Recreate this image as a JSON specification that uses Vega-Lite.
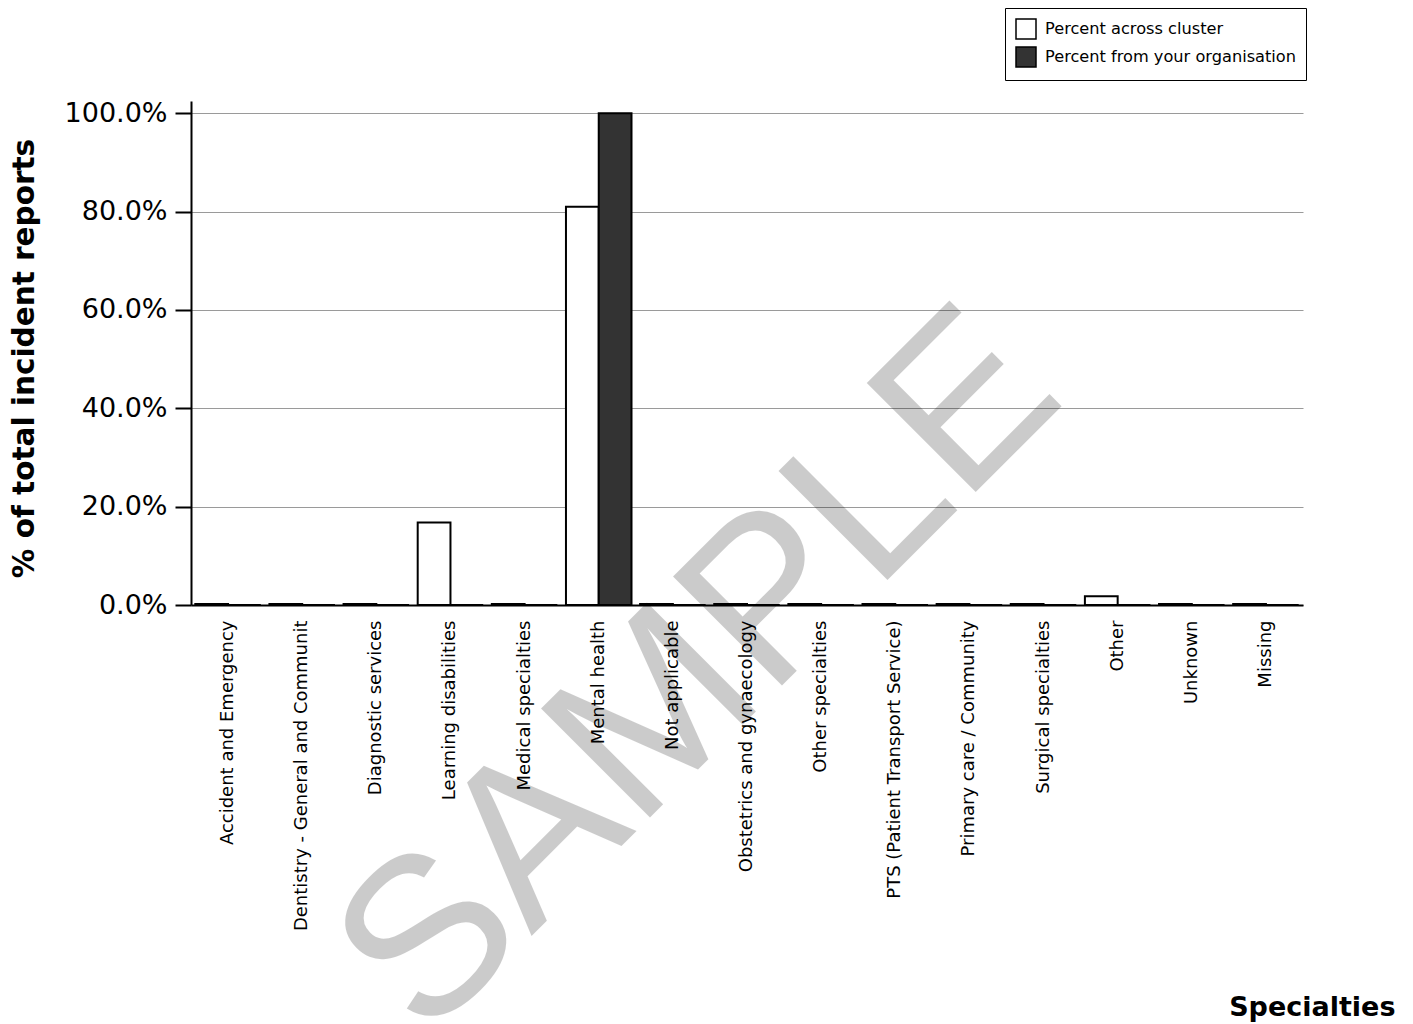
{
  "$schema": "https://vega.github.io/schema/vega-lite/v6.json",
  "autosize": {"type": "none"},
  "width": 1112,
  "height": 504,
  "padding": {"left": 191, "top": 101, "right": 110, "bottom": 419},
  "background": "#ffffff",
  "config": {
    "view": {"stroke": null},
    "font": "DejaVu Sans"
  },
  "layer": [
    {
      "data": {
        "values": [
          {"specialty": "Accident and Emergency", "series": "Percent across cluster", "pct": 0.2},
          {"specialty": "Accident and Emergency", "series": "Percent from your organisation", "pct": 0},
          {"specialty": "Dentistry - General and Communit", "series": "Percent across cluster", "pct": 0.2},
          {"specialty": "Dentistry - General and Communit", "series": "Percent from your organisation", "pct": 0},
          {"specialty": "Diagnostic services", "series": "Percent across cluster", "pct": 0.2},
          {"specialty": "Diagnostic services", "series": "Percent from your organisation", "pct": 0},
          {"specialty": "Learning disabilities", "series": "Percent across cluster", "pct": 16.8},
          {"specialty": "Learning disabilities", "series": "Percent from your organisation", "pct": 0},
          {"specialty": "Medical specialties", "series": "Percent across cluster", "pct": 0.2},
          {"specialty": "Medical specialties", "series": "Percent from your organisation", "pct": 0},
          {"specialty": "Mental health", "series": "Percent across cluster", "pct": 81.0},
          {"specialty": "Mental health", "series": "Percent from your organisation", "pct": 100.0},
          {"specialty": "Not applicable", "series": "Percent across cluster", "pct": 0.2},
          {"specialty": "Not applicable", "series": "Percent from your organisation", "pct": 0},
          {"specialty": "Obstetrics and gynaecology", "series": "Percent across cluster", "pct": 0.2},
          {"specialty": "Obstetrics and gynaecology", "series": "Percent from your organisation", "pct": 0},
          {"specialty": "Other specialties", "series": "Percent across cluster", "pct": 0.2},
          {"specialty": "Other specialties", "series": "Percent from your organisation", "pct": 0},
          {"specialty": "PTS (Patient Transport Service)", "series": "Percent across cluster", "pct": 0.2},
          {"specialty": "PTS (Patient Transport Service)", "series": "Percent from your organisation", "pct": 0},
          {"specialty": "Primary care / Community", "series": "Percent across cluster", "pct": 0.2},
          {"specialty": "Primary care / Community", "series": "Percent from your organisation", "pct": 0},
          {"specialty": "Surgical specialties", "series": "Percent across cluster", "pct": 0.2},
          {"specialty": "Surgical specialties", "series": "Percent from your organisation", "pct": 0},
          {"specialty": "Other", "series": "Percent across cluster", "pct": 1.8},
          {"specialty": "Other", "series": "Percent from your organisation", "pct": 0},
          {"specialty": "Unknown", "series": "Percent across cluster", "pct": 0.2},
          {"specialty": "Unknown", "series": "Percent from your organisation", "pct": 0},
          {"specialty": "Missing", "series": "Percent across cluster", "pct": 0.2},
          {"specialty": "Missing", "series": "Percent from your organisation", "pct": 0}
        ]
      },
      "mark": {"type": "bar", "stroke": "#000000", "strokeWidth": 2},
      "encoding": {
        "x": {
          "field": "specialty",
          "type": "nominal",
          "scale": {
            "domain": [
              "Accident and Emergency", "Dentistry - General and Communit", "Diagnostic services",
              "Learning disabilities", "Medical specialties", "Mental health", "Not applicable",
              "Obstetrics and gynaecology", "Other specialties", "PTS (Patient Transport Service)",
              "Primary care / Community", "Surgical specialties", "Other", "Unknown", "Missing"
            ],
            "paddingInner": 0.116,
            "paddingOuter": 0.058
          },
          "axis": {
            "zindex": 0,
            "title": "Specialties",
            "titleFont": "DejaVu Sans",
            "titleFontSize": 27,
            "titleFontWeight": "bold",
            "titleColor": "#000000",
            "titleAnchor": null,
            "titleAlign": "right",
            "titleBaseline": "alphabetic",
            "titleX": 1204,
            "titleY": 410,
            "labelAngle": -90,
            "labelAlign": "right",
            "labelBaseline": "middle",
            "labelPadding": 15,
            "labelFont": "DejaVu Sans",
            "labelFontSize": 18,
            "labelColor": "#000000",
            "labelLimit": 400,
            "ticks": false,
            "domainColor": "#000000",
            "domainWidth": 2,
            "grid": false
          }
        },
        "xOffset": {
          "field": "series",
          "type": "nominal",
          "scale": {"domain": ["Percent across cluster", "Percent from your organisation"], "paddingInner": 0, "paddingOuter": 0}
        },
        "y": {
          "field": "pct",
          "type": "quantitative",
          "scale": {"domain": [0, 102.5], "nice": false, "zero": true},
          "axis": {
            "zindex": 0,
            "title": "% of total incident reports",
            "titleFont": "DejaVu Sans",
            "titleFontSize": 29.5,
            "titleFontWeight": "bold",
            "titleColor": "#000000",
            "titleX": -152,
            "titleY": 257,
            "titleAnchor": null,
            "titleAlign": "center",
            "titleBaseline": "bottom",
            "titleAngle": -90,
            "values": [0, 20, 40, 60, 80, 100],
            "labelExpr": "format(datum.value, '.1f') + '%'",
            "labelFont": "DejaVu Sans",
            "labelFontSize": 27,
            "labelColor": "#000000",
            "labelPadding": 8,
            "tickSize": 16,
            "tickColor": "#000000",
            "tickWidth": 2,
            "domainColor": "#000000",
            "domainWidth": 2,
            "grid": true,
            "gridColor": "#9a9a9a",
            "gridWidth": 1,
            "gridOpacity": 1
          }
        },
        "color": {
          "field": "series",
          "type": "nominal",
          "scale": {
            "domain": ["Percent across cluster", "Percent from your organisation"],
            "range": ["#ffffff", "#333333"]
          },
          "legend": {
            "title": null,
            "orient": "none",
            "legendX": 814,
            "legendY": -93,
            "direction": "vertical",
            "padding": 10,
            "rowPadding": 2,
            "strokeColor": "#000000",
            "fillColor": "#ffffff",
            "symbolType": "square",
            "symbolSize": 400,
            "symbolStrokeColor": "#000000",
            "symbolStrokeWidth": 1.5,
            "symbolOpacity": 1,
            "labelFont": "DejaVu Sans",
            "labelFontSize": 16.2,
            "labelColor": "#000000",
            "labelOffset": 8,
            "labelLimit": 400
          }
        }
      }
    },
    {
      "data": {"values": [{"watermark": "SAMPLE"}]},
      "mark": {
        "type": "text",
        "font": "Liberation Sans",
        "fontSize": 224,
        "angle": -45,
        "align": "center",
        "baseline": "alphabetic",
        "color": "#000000",
        "opacity": 0.2
      },
      "encoding": {
        "x": {"datum": "Obstetrics and gynaecology"},
        "y": {"datum": -23.5},
        "text": {"field": "watermark"}
      }
    }
  ]
}
